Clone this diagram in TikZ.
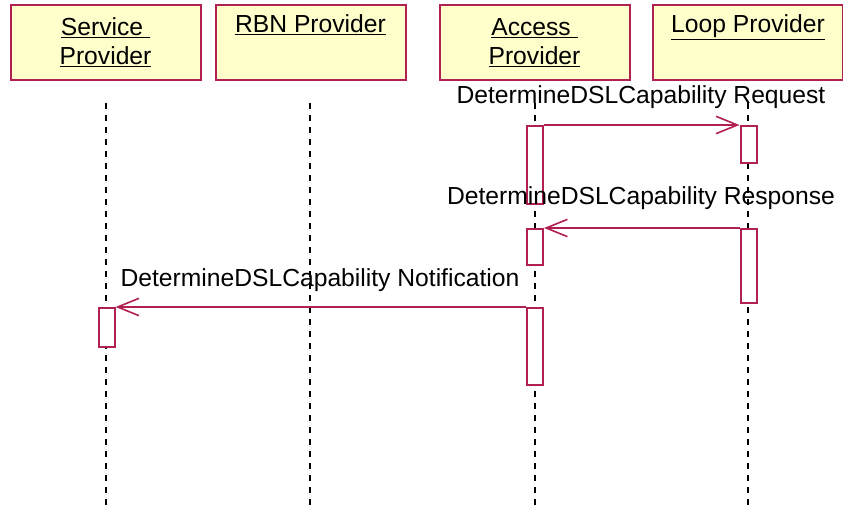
\documentclass[tikz,border=0pt]{standalone}
\usepackage{fontspec}
\setmainfont{Liberation Sans}
\usetikzlibrary{arrows.meta}

\definecolor{seqLine}{RGB}{176,32,80}
\definecolor{seqFill}{RGB}{255,255,204}

\tikzset{
  head/.style={draw=seqLine, fill=seqFill, line width=1.5pt, minimum width=142.5pt, minimum height=56.25pt,
    inner sep=0pt, align=center, font=\fontsize{18.5}{21.75}\selectfont},
  act/.style={draw=seqLine, fill=white, line width=1.5pt, minimum width=12pt, inner sep=0pt, anchor=north},
  life/.style={line width=1pt, dash pattern=on 4.5pt off 4.5pt},
  msg/.style={draw=seqLine, line width=1.5pt, -{Straight Barb[length=16pt,width=13pt,line width=1.2pt]}},
  msglabel/.style={font=\fontsize{18.5}{21.75}\selectfont, inner sep=0pt}
}

\begin{document}
\begin{tikzpicture}[x=0.75pt,y=0.75pt,yscale=-1,xscale=1]
\useasboundingbox (0,0) rectangle (843,506);

% Heads
\node[head] (sp) at (105.5,42.5) {\underline{Service\ }\\\underline{Provider}};
\node[head] (rbn) at (310.5,42.5) {\underline{RBN Provider}\\\strut};
\node[head] (ap) at (534.5,42.5) {\underline{Access\ }\\\underline{Provider}};
\node[head] (lp) at (748,42.5) {\underline{Loop Provider}\\\strut};

% Lifelines
\coordinate (spTop) at (106,103);  \coordinate (spEnd) at (106,506);
\coordinate (rbnTop) at (310,103); \coordinate (rbnEnd) at (310,506);
\coordinate (apTop) at (535,103);  \coordinate (apEnd) at (535,506);
\coordinate (lpTop) at (748,103);  \coordinate (lpEnd) at (748,506);
\draw[life] (spTop) -- (spEnd);
\draw[life] (rbnTop) -- (rbnEnd);
\draw[life] (apTop) -- (apEnd);
\draw[life] (lpTop) -- (lpEnd);

% Activations
\node[act, minimum height=58.5pt] (ap1) at (535,125) {};
\node[act, minimum height=27.75pt] (lp1) at (748.5,125) {};
\node[act, minimum height=27pt] (ap2) at (535,228) {};
\node[act, minimum height=55.5pt] (lp2) at (748.5,228) {};
\node[act, minimum height=29.25pt] (sp1) at (106.5,307) {};
\node[act, minimum height=57.75pt] (ap3) at (535,307) {};

% Messages
\draw[msg] (ap1.north east) -- (lp1.north west);
\draw[msg] (lp2.north west) -- (ap2.north east);
\draw[msg] (ap3.north west) -- (sp1.north east);

% Text Node
\node[msglabel] (req) at (641,97) {DetermineDSLCapability Request};
\node[msglabel] (resp) at (641,198) {DetermineDSLCapability Response};
\node[msglabel] (notif) at (320,280) {DetermineDSLCapability Notification};

\end{tikzpicture}
\end{document}
